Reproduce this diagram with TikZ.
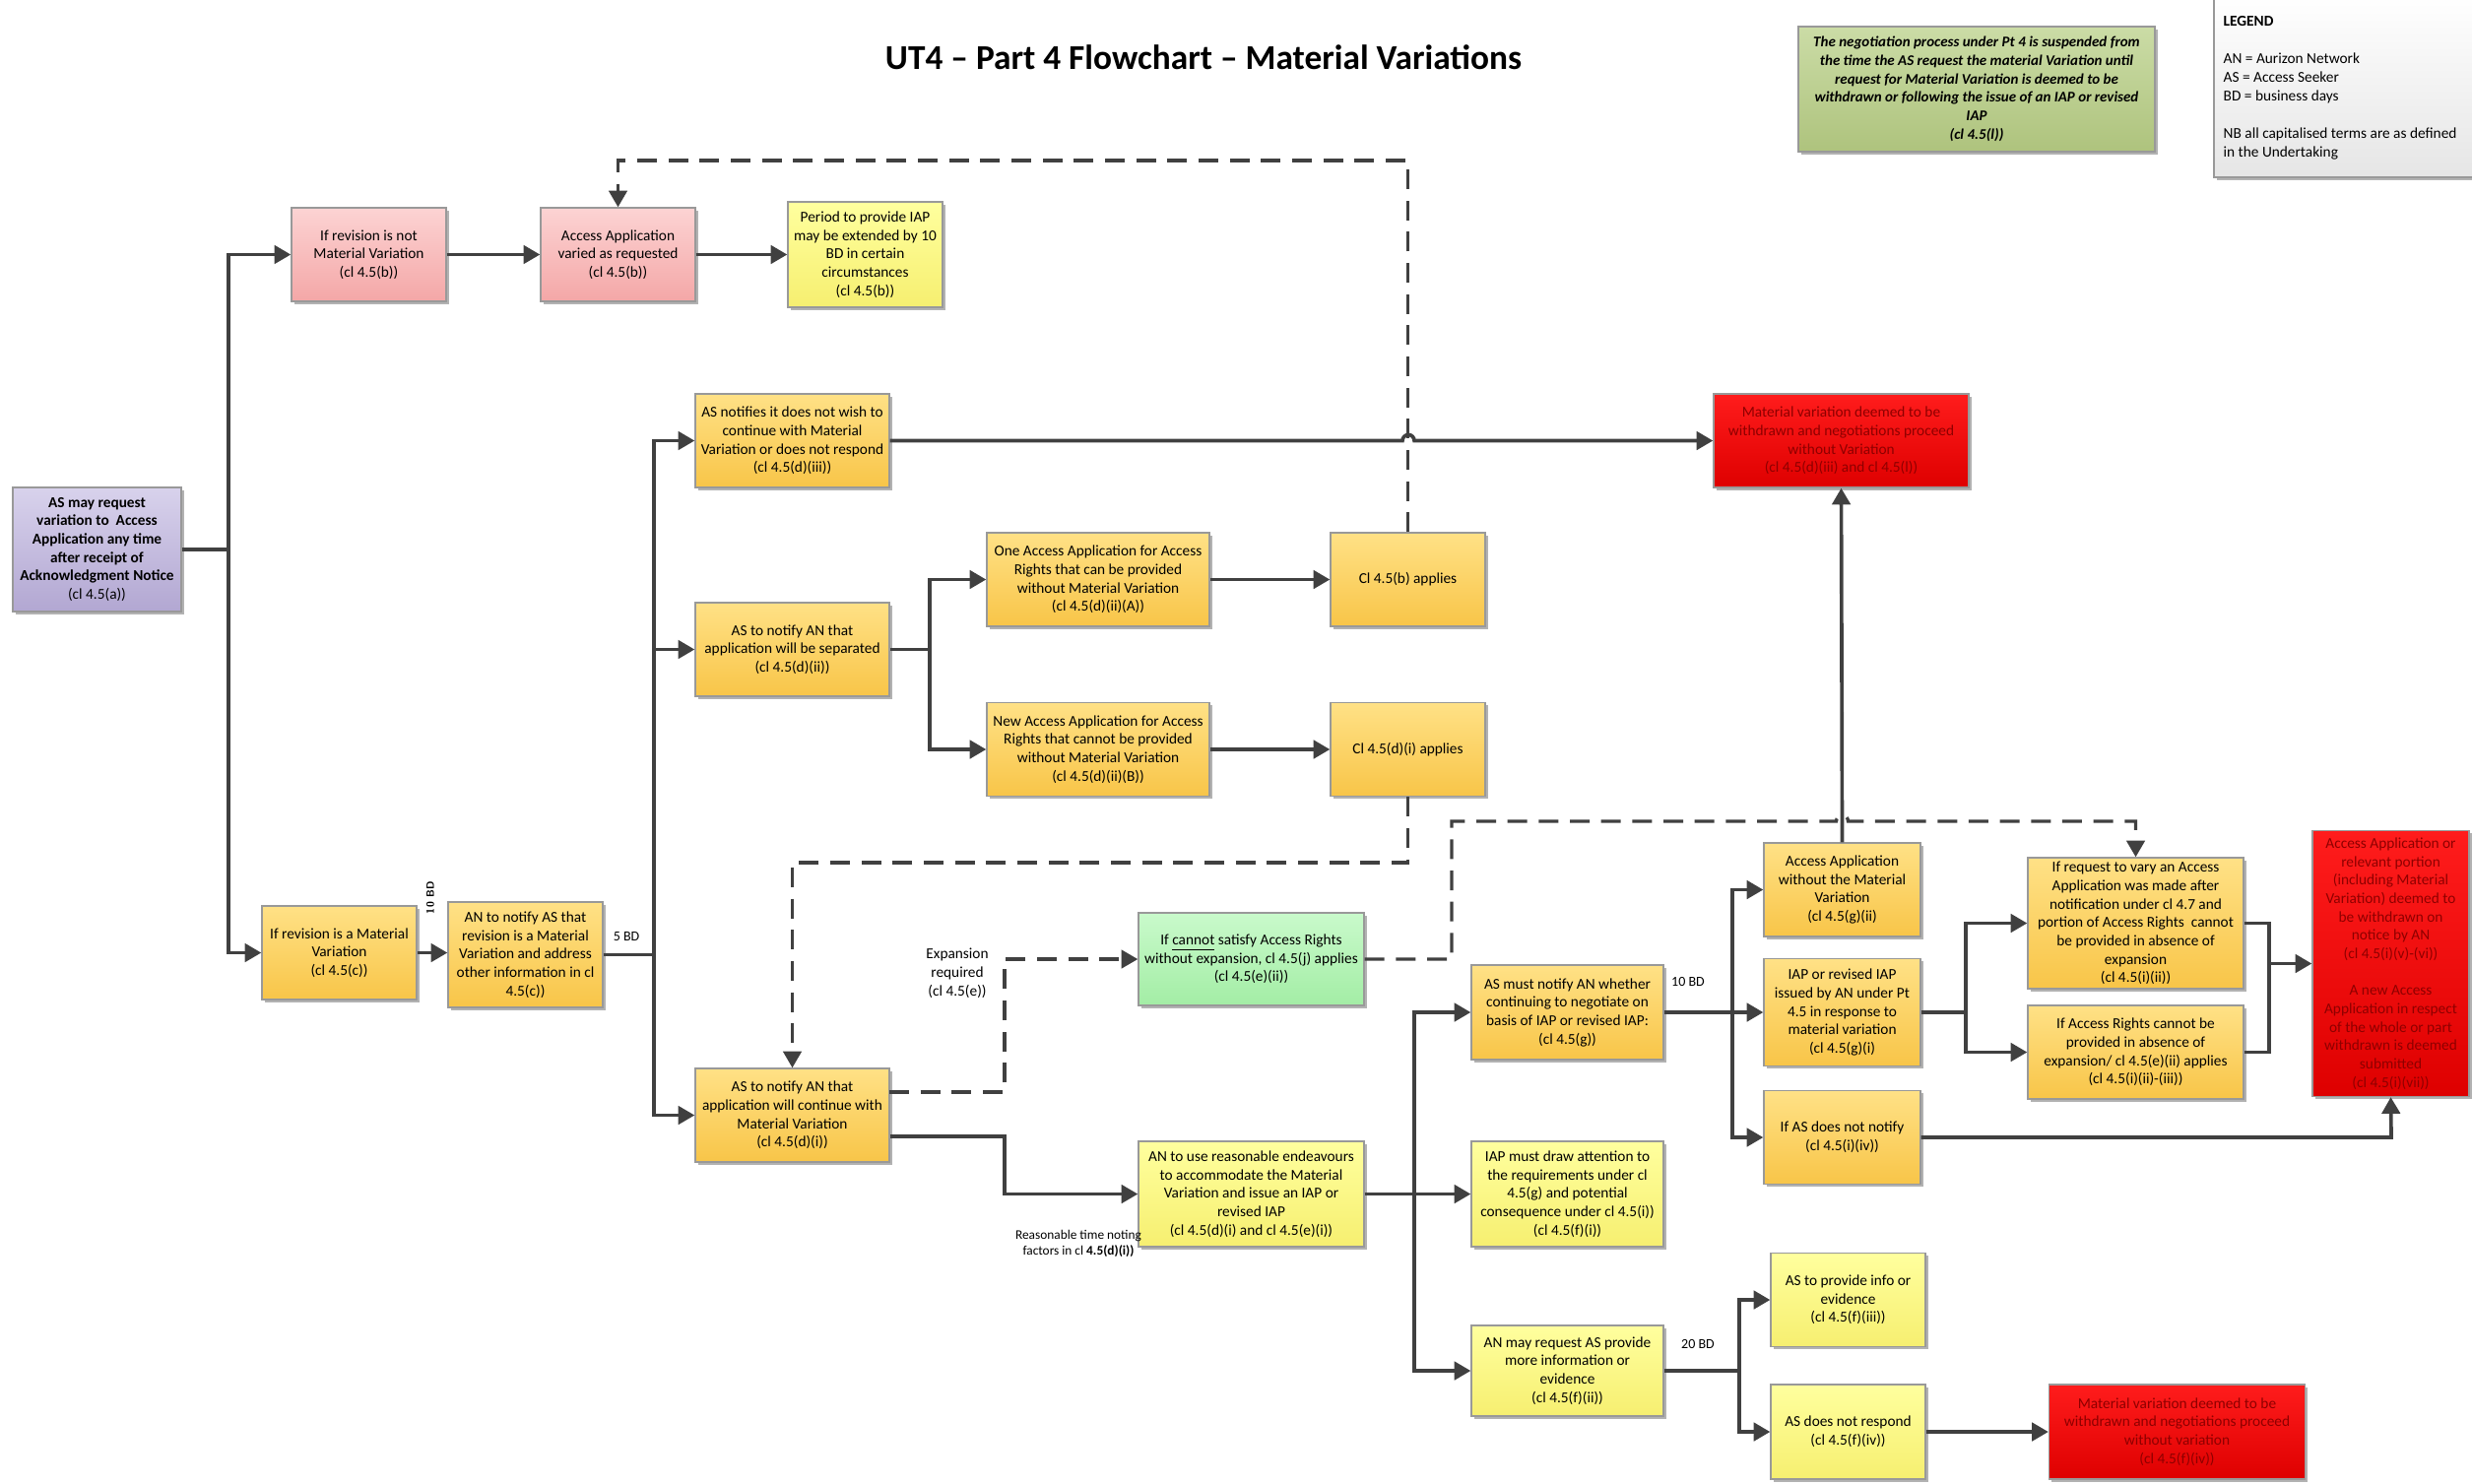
\documentclass[tikz,border=0pt]{standalone}
\usepackage{fontspec}
\setmainfont{Carlito}
\usetikzlibrary{arrows.meta,shadows}
\definecolor{ln}{HTML}{404040}
\definecolor{ytop}{HTML}{FFE186}
\definecolor{ybot}{HTML}{F8C548}
\definecolor{lytop}{HTML}{FFFF9E}
\definecolor{lybot}{HTML}{F6EF70}
\definecolor{ptop}{HTML}{FCD3D3}
\definecolor{pbot}{HTML}{F4A7A7}
\definecolor{gtop}{HTML}{C9FACB}
\definecolor{gbot}{HTML}{A3EDA5}
\definecolor{rtop}{HTML}{FF1C1C}
\definecolor{rbot}{HTML}{DE0000}
\definecolor{rtxt}{HTML}{8E0000}
\definecolor{vtop}{HTML}{D8D2EC}
\definecolor{vbot}{HTML}{B2A7D2}
\definecolor{otop}{HTML}{CBDCA6}
\definecolor{obot}{HTML}{AEC37D}
\begin{document}
\begin{tikzpicture}[x=0.3pt,y=-0.3pt,
  box/.style={draw=black!40, line width=0.4pt, align=center, inner sep=1pt,
    font=\fontsize{4.6}{5.6}\selectfont,
    drop shadow={shadow xshift=0.8pt, shadow yshift=-0.8pt, opacity=0.3, fill=black}},
  wh/.style 2 args={minimum width=#1*0.3pt, minimum height=#2*0.3pt},
  yel/.style={box, top color=ytop, bottom color=ybot},
  lyel/.style={box, top color=lytop, bottom color=lybot},
  pink/.style={box, top color=ptop, bottom color=pbot},
  grn/.style={box, top color=gtop, bottom color=gbot},
  redb/.style={box, top color=rtop, bottom color=rbot, text=rtxt},
  purp/.style={box, top color=vtop, bottom color=vbot},
  oliv/.style={box, top color=otop, bottom color=obot},
  conn/.style={draw=ln, line width=1.1pt},
  arr/.style={conn, -{Triangle[length=5pt,width=5.5pt]}},
  darr/.style={draw=ln, line width=1pt, dash pattern=on 6pt off 3.5pt, -{Triangle[length=5pt,width=5.5pt]}},
  lbl/.style={font=\fontsize{4.2}{5}\selectfont, inner sep=0pt, align=center}
]
\useasboundingbox (0,0) rectangle (2510,1506);

% title
\node[font=\bfseries\fontsize{10.6}{12}\selectfont] (title) at (1222,58) {UT4 -- Part 4 Flowchart -- Material Variations};

% note
\node[oliv, wh={362}{127}, font=\bfseries\itshape\fontsize{4.5}{5.6}\selectfont] (note) at (2007,90.5)
 {The negotiation process under Pt 4 is suspended from\\the time the AS request the material Variation until\\request for Material Variation is deemed to be\\withdrawn or following the issue of an IAP or revised\\IAP\\(cl 4.5(l))};

% legend
\draw[draw=black!40, line width=0.4pt, top color=white, bottom color=black!10,
  drop shadow={shadow xshift=0.8pt, shadow yshift=-0.8pt, opacity=0.3, fill=black}]
  (2248,-5) rectangle (2520,180);
\node[anchor=north west, align=left, inner sep=0pt, font=\fontsize{4.6}{5.7}\selectfont] (legend) at (2257,16)
 {\textbf{LEGEND}\\[5.7pt]AN = Aurizon Network\\AS = Access Seeker\\BD = business days\\[5.7pt]NB all capitalised terms are as defined\\in the Undertaking};

% boxes
\node[purp, wh={171}{126}] (req) at (98.5,558)
 {\textbf{AS may request}\\\textbf{variation to\ \ Access}\\\textbf{Application any time}\\\textbf{after receipt of}\\\textbf{Acknowledgment Notice}\\(cl 4.5(a))};
\node[pink, wh={157}{95}] (notmv) at (374.5,258.5) {If revision is not\\Material Variation\\(cl 4.5(b))};
\node[pink, wh={157}{95}] (varied) at (627.5,258.5) {Access Application\\varied as requested\\(cl 4.5(b))};
\node[lyel, wh={157}{107}] (period) at (878.5,258.5) {Period to provide IAP\\may be extended by 10\\BD in certain\\circumstances\\(cl 4.5(b))};
\node[yel, wh={157}{95}] (ismv) at (344.5,967.5) {If revision is a Material\\Variation\\(cl 4.5(c))};
\node[yel, wh={157}{107}] (annotify) at (533.5,969.5) {AN to notify AS that\\revision is a Material\\Variation and address\\other information in cl\\4.5(c))};
\node[yel, wh={197}{95}] (nowish) at (804.5,447.5) {AS notifies it does not wish to\\continue with Material\\Variation or does not respond\\(cl 4.5(d)(iii))};
\node[yel, wh={197}{95}] (sep) at (804.5,659.5) {AS to notify AN that\\application will be separated\\(cl 4.5(d)(ii))};
\node[yel, wh={197}{95}] (cont) at (804.5,1132.5) {AS to notify AN that\\application will continue with\\Material Variation\\(cl 4.5(d)(i))};
\node[yel, wh={226}{95}] (one) at (1115,588.5) {One Access Application for Access\\Rights that can be provided\\without Material Variation\\(cl 4.5(d)(ii)(A))};
\node[yel, wh={226}{95}] (new) at (1115,761) {New Access Application for Access\\Rights that cannot be provided\\without Material Variation\\(cl 4.5(d)(ii)(B))};
\node[yel, wh={157}{95}] (clb) at (1429.5,588.5) {Cl 4.5(b) applies};
\node[yel, wh={157}{95}] (cldi) at (1429.5,761) {Cl 4.5(d)(i) applies};
\node[redb, wh={259}{95}] (red1) at (1869.5,447.5) {Material variation deemed to be\\withdrawn and negotiations proceed\\without Variation\\(cl 4.5(d)(iii) and cl 4.5(l))};
\node[grn, wh={229}{94}] (green) at (1270.5,974) {If \underline{cannot} satisfy Access Rights\\without expansion, cl 4.5(j) applies\\(cl 4.5(e)(ii))};
\node[lyel, wh={229}{107}] (anuse) at (1270.5,1212.5) {AN to use reasonable endeavours\\to accommodate the Material\\Variation and issue an IAP or\\revised IAP\\(cl 4.5(d)(i) and cl 4.5(e)(i))};
\node[yel, wh={195}{96}] (asmust) at (1591.5,1028) {AS must notify AN whether\\continuing to negotiate on\\basis of IAP or revised IAP:\\(cl 4.5(g))};
\node[lyel, wh={195}{107}] (iapdraw) at (1591.5,1212.5) {IAP must draw attention to\\the requirements under cl\\4.5(g) and potential\\consequence under cl 4.5(i))\\(cl 4.5(f)(i))};
\node[lyel, wh={195}{92}] (anmay) at (1591.5,1392) {AN may request AS provide\\more information or\\evidence\\(cl 4.5(f)(ii))};
\node[yel, wh={159}{95}] (aawo) at (1870.5,903.5) {Access Application\\without the Material\\Variation\\(cl 4.5(g)(ii)};
\node[yel, wh={159}{109}] (iaprev) at (1870.5,1028) {IAP or revised IAP\\issued by AN under Pt\\4.5 in response to\\material variation\\(cl 4.5(g)(i)};
\node[yel, wh={159}{95}] (nonot) at (1870.5,1155) {If AS does not notify\\(cl 4.5(i)(iv))};
\node[yel, wh={219}{133}] (reqvary) at (2168.5,937.5) {If request to vary an Access\\Application was made after\\notification under cl 4.7 and\\portion of Access Rights\ \ cannot\\be provided in absence of\\expansion\\(cl 4.5(i)(ii))};
\node[yel, wh={219}{95}] (arcan) at (2168.5,1068.5) {If Access Rights cannot be\\provided in absence of\\expansion/ cl 4.5(e)(ii) applies\\(cl 4.5(i)(ii)-(iii))};
\node[redb, wh={159}{270}, inner sep=0pt] (red2) at (2427.5,978.5) {Access Application or\\relevant portion\\(including Material\\Variation) deemed to\\be withdrawn on\\notice by AN\\(cl 4.5(i)(v)-(vi))\\[5.6pt]A new Access\\Application in respect\\of the whole or part\\withdrawn is deemed\\submitted\\(cl 4.5(i)(vii))};
\node[lyel, wh={157}{95}] (provide) at (1876.5,1320) {AS to provide info or\\evidence\\(cl 4.5(f)(iii))};
\node[lyel, wh={157}{96}] (noresp) at (1876.5,1454) {AS does not respond\\(cl 4.5(f)(iv))};
\node[redb, wh={260}{96}] (red3) at (2210.5,1454) {Material variation deemed to be\\withdrawn and negotiations proceed\\without variation\\(cl 4.5(f)(iv))};

% labels
\node[lbl, rotate=90, font=\sffamily\bfseries\fontsize{3.2}{4}\selectfont] (l10a) at (437,912) {1\,0 BD};
\node[lbl] (l5) at (636,951) {5 BD};
\node[lbl] (l10b) at (1714,997) {10 BD};
\node[lbl] (l20) at (1724,1365) {20 BD};
\node[lbl, font=\fontsize{4.6}{5.7}\selectfont] (lexp) at (972,988) {Expansion\\required\\(cl 4.5(e))};
\node[lbl, font=\fontsize{4}{4.9}\selectfont] (lreas) at (1095,1263) {Reasonable time noting\\factors in cl \textbf{4.5(d)(i))}};

% junction coordinates
\coordinate (j1) at (232,558);
\coordinate (j2) at (664,969.5);
\coordinate (j3) at (944,659.5);
\coordinate (j4) at (1020,1154);
\coordinate (j5) at (1436,1212.5);
\coordinate (j6) at (1759,1028);
\coordinate (j7) at (1996,1028);
\coordinate (j8) at (2304,978.5);
\coordinate (j9) at (1766,1392);
\coordinate (nb) at (2428,1155);

% solid connectors
\draw[conn] (req.east) -- (j1);
\draw[arr] (j1) |- (notmv.west);
\draw[arr] (j1) |- (ismv.west);
\draw[arr] (notmv) -- (varied);
\draw[arr] (varied) -- (period);
\draw[arr] (ismv.east) -- (annotify.west |- ismv.east);
\draw[conn] (annotify.east) -- (j2);
\draw[arr] (j2) |- (nowish.west);
\draw[arr] (j2) |- (sep.west);
\draw[arr] (j2) |- (cont.west);
\draw[arr] (nowish.east) -- (1424,447.5) arc[start angle=180, end angle=360, radius=6] -- (red1.west);
\draw[conn] (sep.east) -- (j3);
\draw[arr] (j3) |- (one.west);
\draw[arr] (j3) |- (new.west);
\draw[arr] (one) -- (clb);
\draw[arr] (new) -- (cldi);
\draw[arr] (cont.east |- j4) -- (j4) |- (anuse.west);
\draw[conn] (anuse.east) -- (j5);
\draw[arr] (j5) |- (asmust.west);
\draw[arr] (j5) -- (iapdraw.west);
\draw[arr] (j5) |- (anmay.west);
\draw[conn] (asmust.east) -- (j6);
\draw[arr] (j6) |- (aawo.west);
\draw[arr] (j6) -- (iaprev.west);
\draw[arr] (j6) |- (nonot.west);
\draw[arr] (aawo.north) -- (red1.south);
\draw[conn] (iaprev.east) -- (j7);
\draw[arr] (j7) |- (reqvary.west);
\draw[arr] (j7) |- (arcan.west);
\draw[conn] (reqvary.east) -| (j8);
\draw[conn] (arcan.east) -| (j8);
\draw[arr] (j8) -- (red2.west);
\draw[arr] (nonot.east) -- (nb) -- (red2.south);
\draw[conn] (anmay.east) -- (j9);
\draw[arr] (j9) |- (provide.west);
\draw[arr] (j9) |- (noresp.west);
\draw[arr] (noresp) -- (red3);

% dashed connectors
\coordinate (d1) at (1429.5,163);
\draw[darr] (clb.north) -- (d1) -| (varied.north);
\coordinate (d2) at (1429.5,876);
\draw[darr] (cldi.south) -- (d2) -| (cont.north);
\coordinate (d3s) at (903,1109);
\coordinate (d3) at (1020,1109);
\draw[darr] (d3s) -- (d3) |- (green.west);
\coordinate (d4) at (1474,974);
\coordinate (d4b) at (1474,834);
\draw[darr] (green.east) -- (d4) -- (d4b) -- (1864.5,834) arc[start angle=180, end angle=360, radius=6] -- (2168.5,834) -- (reqvary.north);
\end{tikzpicture}
\end{document}
